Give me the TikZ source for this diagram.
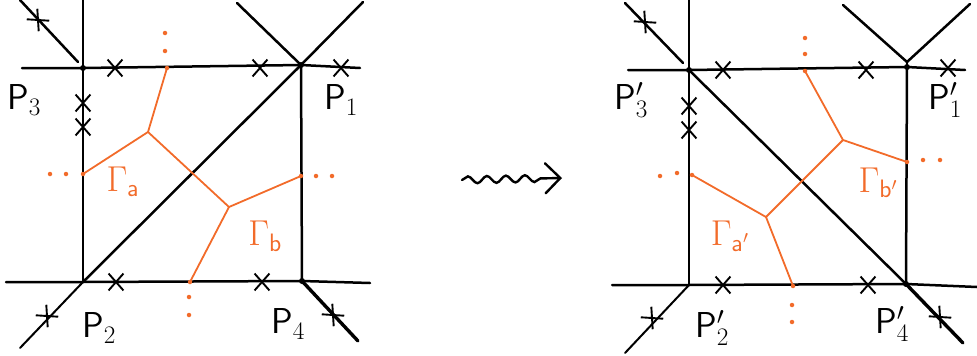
\RequirePackage{fix-cm}
\documentclass[tikz,border=0pt]{standalone}
\usepackage{tikz}
\usepackage{amsmath}
\usetikzlibrary{arrows.meta, positioning, shapes.misc, decorations.pathmorphing}
\definecolor{troporange}{HTML}{F26B2A}

\begin{document}
\begin{tikzpicture}[
    x=1pt, y=-1pt,
    wall/.style={line width=2.5pt, line cap=round},
    thickwall/.style={line width=3.4pt, line cap=round},
    thinwall/.style={line width=2pt, line cap=round},
    tropic/.style={troporange, line width=1.8pt, line cap=round},
    crossmark/.style={cross out, draw, line width=1.9pt, minimum width=13pt, minimum height=15pt, inner sep=0pt},
    tiltmark/.style={crossmark, rotate=45},
    cornerdot/.style={circle, fill, inner sep=0pt, minimum size=6pt},
    enddot/.style={circle, fill=troporange, inner sep=0pt, minimum size=4.5pt},
    plabel/.style={font=\fontsize{36}{40}\selectfont, inner sep=0pt},
    glabel/.style={text=troporange, font=\fontsize{36}{40}\selectfont, inner sep=0pt},
    squiggle/.style={line width=2.4pt, line cap=round, decorate, decoration={snake, amplitude=3.5pt, segment length=19pt, post length=14pt}, -{Straight Barb[length=15pt, width=30pt, line width=2.4pt, line cap=round]}}
]
\useasboundingbox (0,0) rectangle (977,356);

% Left: corners and loose ends
\coordinate (p3) at (83,68);
\coordinate (p1) at (301,65);
\coordinate (p2) at (83,282);
\coordinate (p4) at (302,281);
\coordinate (topL) at (22,68);
\coordinate (topR) at (360,68);
\coordinate (botL) at (6,282);
\coordinate (botR) at (370,283);
\coordinate (leftT) at (83,0);
\coordinate (nw) at (20,0);
\coordinate (nwEnd) at (78,62);
\coordinate (neL) at (237,3);
\coordinate (neR) at (363,2);
\coordinate (sw) at (20,348);
\coordinate (se) at (358,341);

\draw[wall] (topL) -- (p3) -- (p1) -- (topR);
\draw[wall] (botL) -- (p2) -- (p4) -- (botR);
\draw[wall] (leftT) -- (p3) -- (p2);
\draw[wall] (p1) -- (p4);
\draw[wall] (p2) -- (p1);
\draw[wall] (nw) -- (nwEnd);
\draw[wall] (neL) -- (p1) -- (neR);
\draw[thinwall] (p2) -- (sw);
\draw[thickwall] (p4) -- (se);

\foreach \c in {p3,p1,p4} \node[cornerdot] at (\c) {};

% Left: crosses
\foreach \x/\y in {115/68, 260/68, 341/68, 83/103, 83/127, 116/282, 262/282}
    \node[crossmark] at (\x,\y) {};
\foreach \x/\y in {38/20, 47/316, 333/315}
    \node[tiltmark] at (\x,\y) {};

% Left: tropical curve
\coordinate (ta) at (167,68);
\coordinate (va) at (148,132);
\coordinate (la) at (83,174);
\coordinate (vb) at (229,207);
\coordinate (rb) at (301,176);
\coordinate (bb) at (190,282);
\draw[tropic] (ta) -- (va) -- (la);
\draw[tropic] (va) -- (vb) -- (rb);
\draw[tropic] (vb) -- (bb);
\foreach \c in {ta,la,rb,bb} \node[enddot] at (\c) {};
\foreach \x/\y in {165/33, 165/51, 50/174, 66/174, 316/176, 332/176, 189/297, 189/315}
    \node[enddot] at (\x,\y) {};

% Left: labels
\node[plabel] (lp3) at (24,100) {$\mathsf{P}_{3}$};
\node[plabel] (lp1) at (341,100) {$\mathsf{P}_{1}$};
\node[plabel] (lp2) at (99,328) {$\mathsf{P}_{2}$};
\node[plabel] (lp4) at (288,324) {$\mathsf{P}_{4}$};
\node[glabel] (lga) at (123,182) {$\Gamma_{\mathsf{a}}$};
\node[glabel] (lgb) at (265,236) {$\Gamma_{\mathsf{b}}$};

% Squiggly arrow
\coordinate (sqs) at (462,180);
\coordinate (sqe) at (562,178);
\draw[squiggle] (sqs) -- (sqe);

% Right: corners and loose ends
\coordinate (q3) at (689,70);
\coordinate (q1) at (907,67);
\coordinate (q2) at (689,285);
\coordinate (q4) at (906,284);
\coordinate (qtopL) at (628,70);
\coordinate (qtopR) at (965,70);
\coordinate (qbotL) at (612,285);
\coordinate (qbotR) at (977,287);
\coordinate (qleftT) at (689,0);
\coordinate (qnw) at (625,3);
\coordinate (qnwEnd) at (683,63);
\coordinate (qneL) at (843,5);
\coordinate (qneJ) at (907,62);
\coordinate (qneR) at (970,4);
\coordinate (qsw) at (625,353);
\coordinate (qse) at (963,343);

\draw[wall] (qtopL) -- (q3) -- (q1) -- (qtopR);
\draw[wall] (qbotL) -- (q2) -- (q4) -- (qbotR);
\draw[wall] (qleftT) -- (q3) -- (q2);
\draw[wall] (q1) -- (q4);
\draw[wall] (q3) -- (q4);
\draw[wall] (qnw) -- (qnwEnd);
\draw[wall] (qneL) -- (qneJ) -- (qneR);
\draw[wall] (qneJ) -- (q1);
\draw[thinwall] (q2) -- (qsw);
\draw[thickwall] (q4) -- (qse);

\foreach \c in {q3,q1,q4} \node[cornerdot] at (\c) {};

% Right: crosses
\foreach \x/\y in {723/70, 866/70, 948/68, 689/106, 689/130, 723/285, 868/285}
    \node[crossmark] at (\x,\y) {};
\foreach \x/\y in {645/22, 652/318, 940/317}
    \node[tiltmark] at (\x,\y) {};

% Right: tropical curve
\coordinate (tb') at (805,71);
\coordinate (vb') at (843,140);
\coordinate (rb') at (907,162);
\coordinate (va') at (766,217);
\coordinate (la') at (692,175);
\coordinate (ba') at (793,286);
\draw[tropic] (tb') -- (vb') -- (rb');
\draw[tropic] (vb') -- (va') -- (la');
\draw[tropic] (va') -- (ba');
\foreach \c in {tb',rb',la',ba'} \node[enddot] at (\c) {};
\foreach \x/\y in {805/38, 805/54, 923/160, 940/160, 660/176, 677/173, 792/305, 792/322}
    \node[enddot] at (\x,\y) {};

% Right: labels
\node[plabel] (rp3) at (631,100) {$\mathsf{P}'_{3}$};
\node[plabel] (rp1) at (945,100) {$\mathsf{P}'_{1}$};
\node[plabel] (rp2) at (712,328) {$\mathsf{P}'_{2}$};
\node[plabel] (rp4) at (892,324) {$\mathsf{P}'_{4}$};
\node[glabel] (rgb) at (878,183) {$\Gamma_{\mathsf{b}'}$};
\node[glabel] (rga) at (730,236) {$\Gamma_{\mathsf{a}'}$};

\end{tikzpicture}
\end{document}
